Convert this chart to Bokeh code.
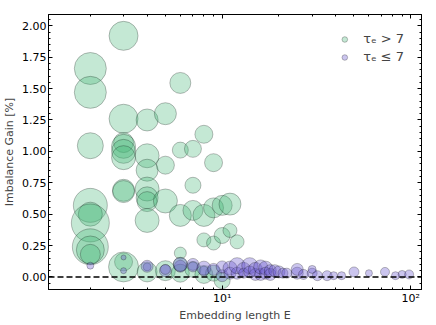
from bokeh.plotting import figure
from bokeh.models import (ColumnDataSource, FixedTicker, SingleIntervalTicker, NumeralTickFormatter,
                          LinearAxis, LogAxis, Span, Legend, LegendItem, Range1d)
from bokeh.embed import file_html
from bokeh.resources import INLINE

# tau_e > 7 (green)
green_E = [2, 2, 2, 2, 2, 2, 2, 2, 2,
           3, 3, 3, 3, 3, 3, 3, 3, 3, 3,
           4, 4, 4, 4, 4, 4, 4, 4,
           5, 5, 5, 5,
           6, 6, 6, 6, 6, 6,
           7, 7, 7, 7,
           8, 8, 8, 8,
           9, 9, 9, 9,
           10, 10, 10,
           11, 11, 12]
green_gain = [1.66, 1.47, 1.045, 0.57, 0.50, 0.43, 0.24, 0.215, 0.18,
              1.92, 1.26, 1.07, 1.04, 1.00, 0.95, 0.69, 0.68, 0.12, 0.08,
              1.25, 0.965, 0.85, 0.70, 0.63, 0.60, 0.45, 0.04,
              1.30, 0.89, 0.605, 0.05,
              1.545, 1.01, 0.49, 0.19, 0.10, 0.03,
              1.02, 0.73, 0.53, 0.06,
              1.136, 0.49, 0.295, 0.02,
              0.91, 0.55, 0.27, 0.03,
              0.57, 0.33, -0.03,
              0.58, 0.37, 0.28]
green_size = [32, 32, 26, 34, 24, 38, 36, 28, 20,
              29, 29, 20, 24, 24, 24, 22, 22, 18, 30,
              22, 24, 22, 24, 22, 20, 24, 20,
              22, 18, 24, 20,
              21, 16, 22, 12, 14, 18,
              17, 16, 20, 16,
              18, 22, 14, 18,
              18, 20, 14, 16,
              20, 16, 16,
              22, 14, 14]

# tau_e <= 7 (purple)
purple_E = [2, 3, 3, 4, 4, 5, 5, 6, 6, 7, 7, 8, 8, 9, 10, 10, 11, 11, 12, 12,
            13, 13, 14, 14, 15, 15, 16, 16, 17, 17, 18, 18, 19, 20, 21, 22, 25, 25,
            27, 30, 30, 32, 36, 39, 43, 50, 60, 73, 83, 90, 98]
purple_gain = [0.09, 0.155, 0.05, 0.08, 0.085, 0.05, 0.06, 0.085, 0.10, 0.10, 0.08, 0.045, 0.07,
               0.06, 0.01, 0.08, 0.07, 0.03, 0.03, 0.09,
               0.06, 0.03, 0.09, 0.04, 0.02, 0.06, 0.02, 0.08, 0.07, 0.03, 0.02, 0.05, 0.05,
               0.04, 0.03, 0.03, 0.03, 0.06,
               0.02, 0.03, 0.06, 0.01, 0.01, 0.01, 0.01, 0.04, 0.03, 0.04, 0.01, 0.02, 0.02]
purple_size = [7, 5, 6, 8, 12, 12, 10, 12, 14, 12, 10, 10, 14, 12, 12, 12, 14, 12, 12, 16,
               14, 10, 16, 12, 12, 14, 12, 14, 14, 12, 12, 12, 12, 12, 10, 10, 12, 12,
               10, 10, 8, 10, 10, 8, 8, 10, 7, 9, 8, 8, 9]

x_ticks = [10, 100]
x_tick_labels = {10: "10\u00b9", 100: "10\u00b2"}
x_minor = [2, 3, 4, 5, 6, 7, 8, 9, 20, 30, 40, 50, 60, 70, 80, 90]

FONT = "DejaVu Sans"

p = figure(width=428, height=324, x_axis_type="log", output_backend="svg", toolbar_location=None,
           x_range=Range1d(1.2, 114), y_range=Range1d(-0.1, 2.09),
           min_border_left=48, min_border_right=7, min_border_top=14, min_border_bottom=28)
p.grid.visible = False
p.outline_line_color = "black"

gsrc = ColumnDataSource(dict(x=green_E, y=green_gain, s=green_size))
psrc = ColumnDataSource(dict(x=purple_E, y=purple_gain, s=purple_size))
rg = p.scatter("x", "y", size="s", source=gsrc, fill_color="mediumseagreen", fill_alpha=0.3,
               line_color="black", line_alpha=0.25, line_width=1)
rp = p.scatter("x", "y", size="s", source=psrc, fill_color="slateblue", fill_alpha=0.35,
               line_color="black", line_alpha=0.25, line_width=1)

p.add_layout(Span(location=0, dimension="width", line_color="black", line_dash="6 3", line_width=1.5))

legend = Legend(items=[LegendItem(label="\u03c4\u2091 > 7", renderers=[rg]),
                       LegendItem(label="\u03c4\u2091 \u2264 7", renderers=[rp])],
                location="top_right", border_line_color=None, background_fill_alpha=0,
                label_text_font=FONT, label_text_font_size="13px", glyph_width=14, glyph_height=14,
                spacing=3, margin=17, padding=4, label_standoff=12)
p.add_layout(legend)

def style(ax, labels=True):
    ax.major_tick_in = 4
    ax.major_tick_out = 0
    ax.minor_tick_in = 2
    ax.minor_tick_out = 0
    ax.axis_line_color = "black"
    ax.major_label_text_font = FONT
    ax.major_label_text_color = "black"
    ax.axis_label_text_font = FONT
    ax.axis_label_text_font_size = "11px"
    ax.axis_label_text_font_style = "normal"
    if labels:
        ax.major_label_text_font_size = "11px"
        ax.major_label_standoff = 2
    else:
        ax.major_label_text_font_size = "1px"
        ax.major_label_text_alpha = 0
        ax.major_label_standoff = 0

xt = FixedTicker(ticks=x_ticks, minor_ticks=x_minor)
yt = SingleIntervalTicker(interval=0.25, num_minor_ticks=5)

p.xaxis.ticker = xt
p.xaxis.major_label_overrides = x_tick_labels
p.xaxis.axis_label = "Embedding length E"
p.yaxis.ticker = yt
p.yaxis.formatter = NumeralTickFormatter(format="0.00")
p.yaxis.axis_label = "Imbalance Gain [%]"
style(p.xaxis[0])
style(p.yaxis[0])
p.xaxis.axis_label_standoff = 1
p.yaxis.axis_label_standoff = 3

top = LogAxis(ticker=xt)
right = LinearAxis(ticker=yt)
style(top, False)
style(right, False)
p.add_layout(top, "above")
p.add_layout(right, "right")

open("out.html", "w").write(file_html(p, INLINE))
